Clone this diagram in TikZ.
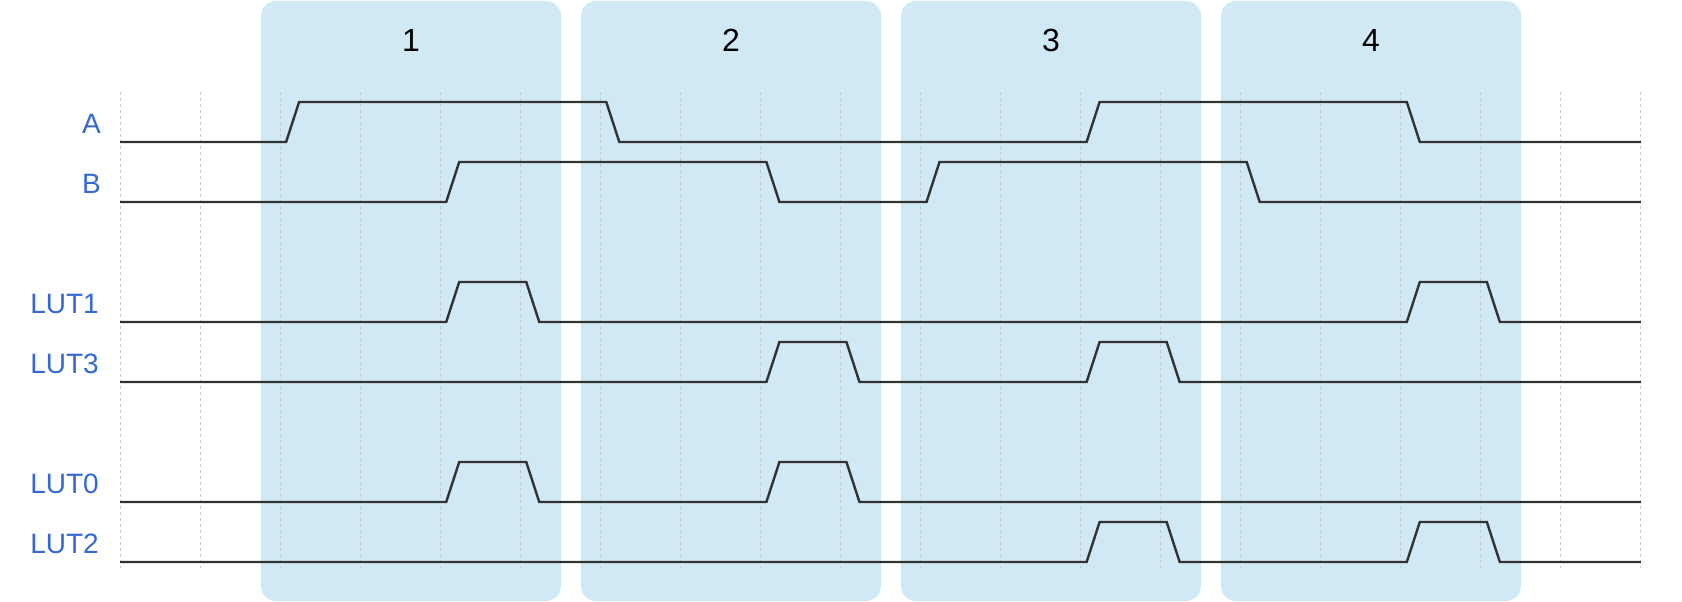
\documentclass[tikz,border=0pt]{standalone}
\usepackage{fontspec}
\setmainfont{Liberation Sans}
\definecolor{boxblue}{RGB}{209,233,245}
\definecolor{labelblue}{RGB}{52,104,212}
\definecolor{wavegray}{RGB}{50,50,50}
\definecolor{gridgray}{RGB}{200,200,200}
\def\G#1{120+80.05*#1}
\tikzset{
  phasebox/.style={fill=boxblue, draw=none, rounded corners=15pt},
  gridline/.style={draw=gridgray, line width=1pt, dash pattern=on 3pt off 3pt},
  wave/.style={draw=wavegray, line width=2.4pt, line join=miter},
  siglabel/.style={text=labelblue, font=\fontsize{28}{32}\selectfont, anchor=base east, inner sep=0pt},
  phaselabel/.style={text=black, font=\fontsize{32}{36}\selectfont, anchor=base, inner sep=0pt},
  wup/.style 2 args={insert path={-- ({\G{#1}+6},{#2}) -- ({\G{#1}+19},{#2-40})}},
  wdn/.style 2 args={insert path={-- ({\G{#1}+6},{#2-40}) -- ({\G{#1}+19},{#2})}},
}
\begin{document}
\begin{tikzpicture}[x=1pt,y=-1pt]
\useasboundingbox (0,0) rectangle (1682,602);
% phase boxes
\foreach \i/\xl in {1/261,2/581,3/901,4/1221}{
  \path[phasebox] (\xl,1) rectangle ({\xl+300},601);
  \node[phaselabel] (ph\i) at ({\xl+150},52) {\i};
}
% grid
\foreach \k in {0,...,19}{
  \draw[gridline] ({\G{\k}},92) -- ({\G{\k}},568);
}
% waveforms
\draw[wave] (120,142) [wup={2}{142}] [wdn={6}{142}] [wup={12}{142}] [wdn={16}{142}] -- ({\G{19}},142);
\draw[wave] (120,202) [wup={4}{202}] [wdn={8}{202}] [wup={10}{202}] [wdn={14}{202}] -- ({\G{19}},202);
\draw[wave] (120,322) [wup={4}{322}] [wdn={5}{322}] [wup={16}{322}] [wdn={17}{322}] -- ({\G{19}},322);
\draw[wave] (120,382) [wup={8}{382}] [wdn={9}{382}] [wup={12}{382}] [wdn={13}{382}] -- ({\G{19}},382);
\draw[wave] (120,502) [wup={4}{502}] [wdn={5}{502}] [wup={8}{502}] [wdn={9}{502}] -- ({\G{19}},502);
\draw[wave] (120,562) [wup={12}{562}] [wdn={13}{562}] [wup={16}{562}] [wdn={17}{562}] -- ({\G{19}},562);
% labels
\node[siglabel] (lA) at (101,133) {A};
\node[siglabel] (lB) at (101,193) {B};
\node[siglabel] (lL1) at (99,313) {LUT1};
\node[siglabel] (lL3) at (99,373) {LUT3};
\node[siglabel] (lL0) at (99,493) {LUT0};
\node[siglabel] (lL2) at (99,553) {LUT2};
\end{tikzpicture}
\end{document}
